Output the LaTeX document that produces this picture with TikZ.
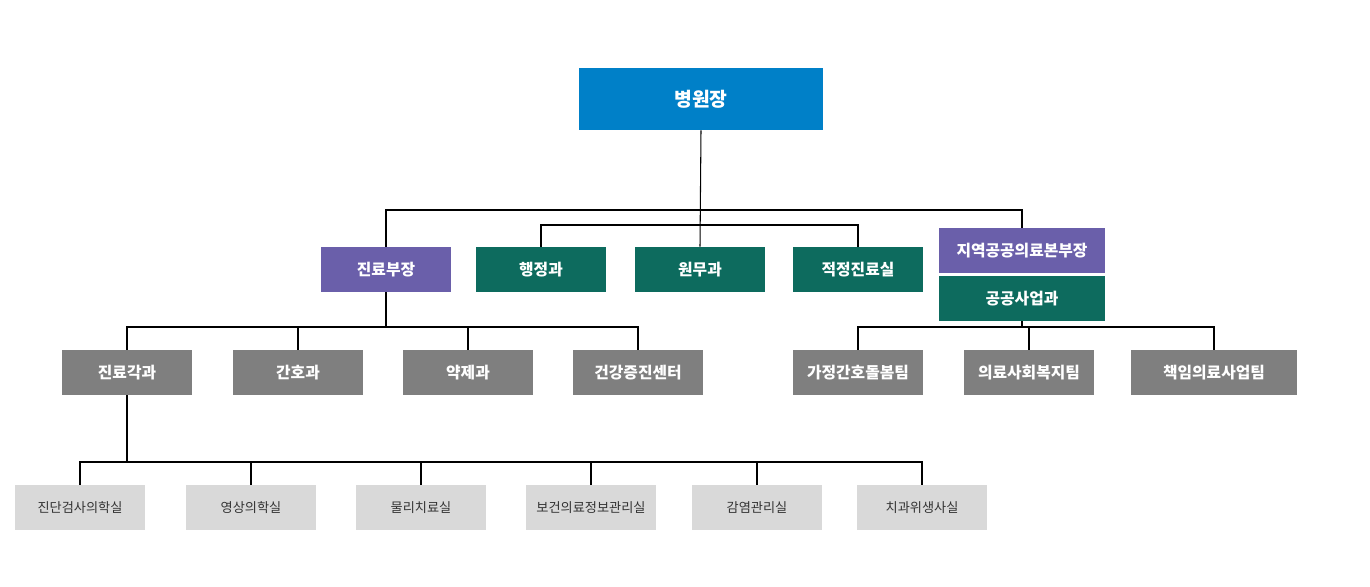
\documentclass[tikz,border=0pt]{standalone}
\usepackage{fontspec}
\setmainfont{Noto Sans CJK KR}
\usetikzlibrary{positioning}
\definecolor{HeadBlue}{HTML}{0080C8}
\definecolor{DeptPurple}{HTML}{6A5FAA}
\definecolor{DeptTeal}{HTML}{0D6B5E}
\definecolor{UnitGrey}{HTML}{7F7F7F}
\definecolor{RoomGrey}{HTML}{D9D9D9}
\begin{document}
\begin{tikzpicture}[x=0.02cm, y=-0.02cm,%
    box/.style={inner sep=0pt, minimum height=0.9cm, minimum width=2.6cm, text=white, font=\fontsize{9}{10}\selectfont\bfseries},%
    head/.style={box, fill=HeadBlue, minimum width=4.88cm, minimum height=1.24cm, font=\fontsize{11}{12}\selectfont\bfseries},%
    purple/.style={box, fill=DeptPurple},%
    teal/.style={box, fill=DeptTeal},%
    grey/.style={box, fill=UnitGrey},%
    room/.style={box, fill=RoomGrey, text=black!80, font=\fontsize{7.5}{9}\selectfont},%
    link/.style={draw=black, line width=0.6pt}%
  ]
  \useasboundingbox (0,0) rectangle (1370,587);%

  %
  % Boxes
  %
  \node[head] (director) at (701,99) {병원장};%
  \node[purple] (medical) at (386,269.5) {진료부장};%
  \node[teal] (admin) at (541,269.5) {행정과};%
  \node[teal] (affairs) at (700,269.5) {원무과};%
  \node[teal] (quality) at (858,269.5) {적정진료실};%
  \node[purple, minimum width=3.32cm] (regional) at (1022,250.5) {지역공공의료본부장};%
  \node[teal, minimum width=3.32cm] (public) at (1022,298.5) {공공사업과};%

  % Units
  \foreach \name/\x/\w/\txt in {clinic/127/2.6/진료각과, nursing/298/2.6/간호과, pharmacy/468/2.6/약제과, health/638/2.6/건강증진센터, homecare/858/2.6/가정간호돌봄팀, welfare/1029/2.6/의료사회복지팀, care/1214/3.32/책임의료사업팀} {%
      \node[grey, minimum width=\w cm] (\name) at (\x,372.5) {\txt};%
    }%

  % Rooms
  \foreach \name/\x/\txt in {lab/80/진단검사의학실, radio/251/영상의학실, physio/421/물리치료실, record/591/보건의료정보관리실, infect/757/감염관리실, dental/922/치과위생사실} {%
      \node[room] (\name) at (\x,507.5) {\txt};%
    }%

  %
  % Connectors
  %
  \coordinate (bus top) at (701,210);%
  \coordinate (bus mid) at (701,225);%
  \draw[link] (director.south) -- (affairs.north);%
  \draw[link] (medical.north) |- (bus top) -| (regional.north);%
  \draw[link] (admin.north) |- (bus mid) -| (quality.north);%

  \coordinate (bus med) at (386,327);%
  \draw[link] (medical.south) -- (bus med);%
  \draw[link] (clinic.north) |- (bus med) -| (health.north);%
  \draw[link] (nursing.north) -- (nursing.north |- bus med);%
  \draw[link] (pharmacy.north) -- (pharmacy.north |- bus med);%

  \coordinate (bus pub) at (1022,327);%
  \draw[link] (public.south) -- (bus pub);%
  \draw[link] (homecare.north) |- (bus pub) -| (care.north);%
  \draw[link] (welfare.north) -- (welfare.north |- bus pub);%

  \coordinate (bus room) at (127,462);%
  \draw[link] (clinic.south) -- (bus room);%
  \draw[link] (lab.north) |- (bus room) -| (dental.north);%
  \foreach \name in {radio, physio, record, infect} {%
      \draw[link] (\name.north) -- (\name.north |- bus room);%
    }%
\end{tikzpicture}
\end{document}
